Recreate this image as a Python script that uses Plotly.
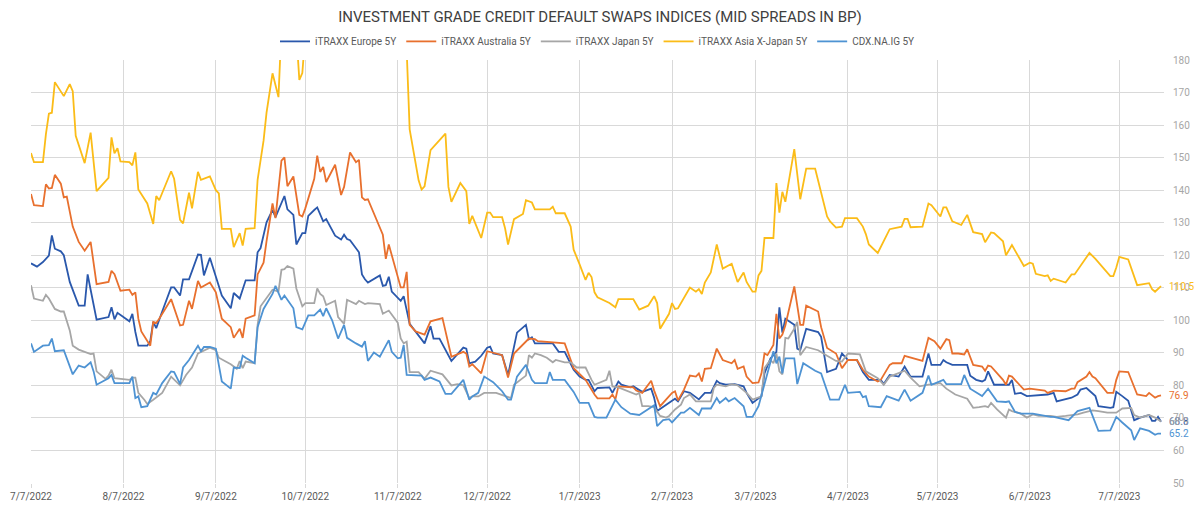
import pandas as pd
import plotly.graph_objects as go

START = "2022-07-07"  # day offsets below are counted from this date

# ---- iTRAXX Europe 5Y ----
eu_day = [0,2,4,6,7,8,10,11,13,14,16,18,19,20,22,26,27,28,29,33,34,35,36,39,40,41,42,44,47,48,50,51,53,56,57,58,60,64,67,68,70,72,75,76,77,79,81,82,84,85,86,88,89,91,92,93,95,
          96,98,99,102,104,105,106,107,110,111,112,113,116,117,118,119,120,121,124,125,127,129,132,134,135,137,141,145,146,147,149,151,153,154,155,158,160,163,166,167,168,169,175,177,179,182,184,186,187,189,
          190,194,195,197,198,201,202,205,208,209,210,215,216,217,219,221,224,226,228,230,231,233,236,239,240,242,245,246,248,250,251,252,253,256,257,258,260,264,265,267,270,272,274,277,279,281,284,
          285,286,288,291,293,295,299,301,302,305,306,307,309,314,315,317,319,320,321,323,328,329,330,332,334,341,343,344,349,351,352,354,357,358,362,363,364,366,368,370,372,375,376,377,378,379]
eu_val = [117.5,116.5,117.9,119.9,126.1,122.0,121.2,120.0,111.8,109.4,104.5,104.5,114.1,109.4,100.2,101.0,104.0,100.3,102.3,99.7,102.0,96.4,92.2,92.2,93.6,99.5,97.6,102.7,110.1,110.1,107.6,112.6,112.6,120.2,120.1,113.8,119.2,107.6,103.7,108.4,106.7,112.3,112.3,120.9,122.2,130.1,133.9,131.7,136.4,138.2,134.1,132.4,123.3,126.8,126.8,132.1,133.9,
          134.7,130.4,131.1,126.0,124.8,126.3,125.0,124.6,120.9,114.1,112.6,111.6,113.4,113.8,110.6,110.8,113.4,108.8,106.0,107.4,98.9,96.6,92.9,98.2,94.4,94.4,87.5,91.6,91.3,86.8,87.3,89.1,91.6,91.9,89.8,89.3,83.2,96.2,98.6,94.2,94.8,92.9,92.9,90.3,90.3,84.8,82.7,81.7,81.7,78.2,
          79.2,79.4,77.7,81.2,80.2,79.4,79.7,78.0,79.0,76.2,72.1,75.3,75.9,75.1,78.2,77.7,75.7,77.7,77.7,81.4,80.7,80.2,80.4,79.7,77.7,74.6,76.7,83.7,88.3,90.3,104.0,96.2,100.5,98.6,91.3,90.8,97.4,96.4,94.9,84.1,85.1,89.8,87.8,87.8,84.1,81.7,81.7,
          81.7,80.4,83.2,82.7,85.8,82.7,82.7,89.8,86.3,86.3,87.8,87.1,86.3,86.3,83.0,81.7,81.2,81.7,84.3,80.2,80.2,81.7,77.4,77.7,76.7,77.2,77.7,75.1,76.2,77.2,78.7,79.2,76.7,73.6,73.1,73.3,78.0,76.7,75.3,69.3,70.1,70.9,69.1,69.1,70.3,68.8]

# ---- iTRAXX Australia 5Y ----
au_day = [0,1,4,5,6,7,8,10,11,12,14,16,18,20,22,26,27,28,30,33,34,35,36,37,40,41,42,43,47,50,51,53,54,56,57,60,62,64,67,68,70,71,72,75,76,78,79,81,82,84,85,86,88,90,91,92,95,
          96,97,98,99,102,104,105,107,109,110,111,112,113,118,119,120,124,125,126,127,129,132,134,138,141,145,146,147,148,151,153,156,158,160,162,167,169,170,175,179,182,184,186,189,
          190,194,195,196,197,202,203,205,208,209,211,215,216,217,219,221,223,224,225,226,228,230,232,235,236,237,239,240,242,244,245,246,247,249,250,251,252,253,256,258,259,260,264,265,267,270,272,274,277,279,281,284,
          285,288,289,292,293,299,301,303,305,307,308,309,311,313,314,316,319,320,321,322,326,327,328,329,333,335,340,341,343,347,349,350,351,354,355,356,357,361,363,364,365,368,369,371,374,375,377,378,379]
au_val = [138.8,135.4,135.1,141.8,140.5,140.7,144.7,142.0,137.8,138.0,128.8,124.1,121.4,124.1,111.1,111.8,115.2,114.2,109.1,109.4,107.8,108.6,100.5,96.6,92.2,99.5,99.2,100.5,106.5,98.4,98.6,106.0,103.5,112.1,110.1,111.6,108.6,100.5,97.9,94.6,97.4,94.6,100.5,101.5,114.1,117.7,124.3,135.9,131.4,149.1,150.1,141.2,144.2,132.4,131.9,134.4,143.5,
          150.6,145.6,147.1,142.5,147.8,138.5,141.0,151.6,148.6,149.3,137.8,137.0,137.2,126.3,118.9,123.3,110.1,110.1,114.9,98.6,96.6,95.6,99.7,100.7,88.8,90.3,89.8,85.8,86.5,83.7,90.5,89.8,89.3,82.4,89.8,94.4,94.2,93.6,93.2,92.9,85.3,83.4,81.7,77.2,
          76.0,76.0,77.2,75.7,79.7,79.4,78.4,77.7,81.4,78.4,73.6,77.7,78.2,75.4,78.7,83.0,82.7,83.7,81.2,85.1,85.3,91.3,87.8,86.8,87.8,85.1,85.8,82.7,80.7,80.9,83.7,89.8,89.3,92.4,102.0,94.4,95.6,98.4,110.4,98.6,98.6,104.5,102.7,97.9,91.5,89.8,85.3,87.8,87.8,84.8,82.7,81.2,
          81.7,86.3,86.8,86.8,89.1,87.5,94.6,93.6,91.3,94.2,93.9,89.8,89.8,89.5,91.1,86.3,85.8,84.5,86.1,85.8,81.7,80.2,83.0,82.7,78.7,79.0,78.4,77.7,78.4,78.2,79.0,79.0,81.0,82.7,84.1,82.7,82.2,77.7,77.7,81.7,84.3,84.1,81.7,77.2,76.7,77.7,76.2,76.7,76.9]

# ---- iTRAXX Japan 5Y ----
jp_day = [0,1,4,5,6,8,10,11,13,14,16,18,20,21,22,25,26,27,28,33,34,35,36,38,39,41,44,47,50,52,54,56,57,60,62,63,65,67,69,70,71,72,75,76,77,79,81,83,84,85,86,88,89,91,92,95,
          96,97,98,99,102,103,105,106,109,110,112,113,117,118,120,123,124,125,126,127,130,132,134,138,141,143,145,147,148,150,152,156,159,161,162,166,167,168,169,171,173,175,176,179,181,183,186,187,188,189,
          193,194,195,197,200,203,204,205,207,209,211,213,214,216,218,219,221,223,228,229,230,233,235,237,240,242,245,246,248,249,250,251,252,253,254,256,257,258,260,264,267,270,272,274,278,280,284,
          286,288,292,293,295,298,301,305,307,310,314,316,318,320,321,322,324,327,328,329,332,334,336,338,342,344,347,351,353,356,358,361,364,366,369,370,372,375,377,379]
jp_val = [110.8,106.7,106.0,107.8,106.7,103.5,102.7,102.7,96.9,92.2,91.0,90.3,89.6,89.8,84.3,82.0,83.0,84.8,82.2,81.7,82.4,82.4,77.7,75.6,74.3,75.6,77.7,82.7,80.0,83.2,85.5,89.8,90.3,91.6,90.8,88.5,87.5,86.5,85.1,87.5,85.3,87.3,86.8,98.6,104.3,106.7,109.4,108.8,115.5,115.7,116.7,115.9,109.8,104.3,105.3,105.3,
          109.8,108.1,107.4,104.7,106.0,101.0,98.9,106.3,105.0,106.0,105.0,105.3,105.0,102.0,103.0,99.3,94.4,92.9,93.4,84.1,84.1,82.0,84.5,83.4,80.0,80.4,80.0,76.1,76.6,76.6,77.7,77.7,76.6,76.1,80.2,83.0,89.3,88.5,89.8,89.3,88.5,87.1,87.8,87.1,87.1,85.5,85.5,83.4,81.7,80.2,
          81.7,84.5,79.7,79.4,78.2,77.2,77.7,73.6,73.6,73.3,70.6,70.1,70.6,72.6,74.1,76.1,77.2,75.1,75.1,79.2,80.2,79.7,80.4,80.0,77.7,75.6,76.6,85.3,87.8,86.8,89.8,84.3,83.4,94.6,94.4,97.4,99.5,89.3,91.8,90.8,89.1,87.5,87.3,89.8,89.5,84.3,82.2,
          80.2,82.7,84.1,84.5,82.4,79.7,80.2,80.7,79.0,77.2,75.9,73.1,73.3,73.6,73.3,74.6,72.6,70.1,72.6,72.1,71.3,70.1,71.1,70.6,70.6,70.3,70.6,71.1,71.6,72.3,72.1,71.6,71.6,72.9,73.1,70.9,70.1,70.9,70.1,68.9]

# ---- iTRAXX Asia X-Japan 5Y ----
ax_day = [0,1,4,5,6,7,8,11,13,14,15,18,20,22,26,27,28,29,30,33,34,35,36,39,41,42,43,47,48,50,51,53,54,56,57,60,62,63,64,67,68,70,71,72,75,76,78,79,81,83,84,87,89,90,91,92,96,100,105,110,115,120,124,126,
          127,130,131,132,134,135,137,139,140,141,144,146,147,148,151,153,154,155,158,159,160,162,165,166,168,169,174,175,176,179,181,182,184,186,187,188,189,
          190,194,196,197,202,204,207,209,210,211,214,215,216,217,219,221,223,224,225,226,228,230,232,235,237,239,240,242,243,244,245,246,249,250,251,252,253,256,258,260,263,265,267,268,270,272,273,277,279,280,281,284,
          288,292,293,294,295,299,301,302,305,306,307,309,312,314,316,319,320,322,323,326,327,329,333,335,336,337,340,341,342,343,347,349,350,355,357,362,363,364,365,368,371,375,376,377,378,379]
ax_val = [151.4,148.6,148.6,157.2,163.5,163.8,173.2,168.9,172.6,170.4,156.7,148.3,157.7,139.7,143.8,156.2,151.3,152.9,148.8,148.6,147.6,151.6,140.2,135.9,129.6,138.2,136.9,145.8,143.5,130.9,129.8,139.2,134.4,145.6,143.2,144.2,140.0,139.0,128.1,128.1,122.5,126.8,123.0,128.1,128.3,143.2,155.2,163.8,175.9,168.6,190,195,188,173.9,176,188,195,200,205,200,198,195,190,183,
          158.7,143.0,140.2,141.2,152.3,153.3,155.4,157.4,141.0,136.4,142.2,139.7,129.6,132.1,125.3,133.1,133.1,131.7,131.7,128.3,123.3,131.1,132.7,136.9,136.2,134.1,134.1,134.9,132.9,132.9,128.8,121.7,117.2,112.4,114.6,113.3,108.6,
          107.1,105.3,104.0,106.5,106.5,103.3,104.5,107.4,105.3,97.4,102.0,105.3,103.5,103.7,106.7,110.1,108.8,109.6,108.1,111.6,114.7,123.3,115.9,117.4,111.8,114.7,111.8,108.8,108.8,113.8,115.2,125.3,125.3,142.2,133.1,139.5,136.4,152.6,137.2,146.6,146.6,139.0,131.9,130.4,128.5,128.8,131.4,131.4,128.8,126.5,123.3,120.7,
          128.0,128.8,131.2,131.2,128.6,128.8,135.9,135.4,131.9,134.7,134.7,130.4,129.3,132.4,127.1,126.5,124.0,127.0,126.8,124.3,120.0,123.1,116.7,117.7,117.4,114.3,113.6,113.8,112.1,112.8,111.6,114.1,114.1,120.7,118.9,113.6,113.6,116.2,119.5,118.7,110.8,111.4,109.6,108.8,109.6,110.5]

# ---- CDX.NA.IG 5Y ----
cdx_day = [0,1,4,6,7,8,11,13,14,16,18,20,21,22,25,26,27,28,33,34,35,36,37,39,41,42,44,47,48,50,51,53,56,57,58,60,62,63,64,67,68,70,71,72,75,76,78,81,82,84,85,88,89,91,93,95,
           97,98,99,101,103,105,106,109,111,112,113,115,117,120,121,123,124,125,126,131,132,134,137,139,141,145,147,148,150,152,155,158,160,161,163,166,168,169,173,174,175,179,182,184,187,189,
           190,193,196,198,201,204,206,209,210,212,214,215,218,219,221,224,225,228,230,231,233,234,236,239,240,242,244,247,249,250,251,252,253,256,257,259,263,265,268,271,273,274,278,279,280,281,284,
           285,287,291,293,295,299,301,302,306,307,312,313,315,319,321,324,327,328,330,332,336,342,343,348,351,355,358,362,364,366,369,370,372,375,377,378,379]
cdx_val = [92.9,90.3,92.2,92.4,94.4,90.5,90.8,85.8,83.4,86.1,85.5,87.1,84.3,80.2,81.7,82.2,83.2,80.7,80.7,82.7,76.1,76.6,73.3,73.6,77.7,77.2,80.7,84.3,84.1,80.4,85.5,87.8,92.2,90.5,91.8,91.8,91.3,86.3,81.2,79.0,85.5,85.3,89.1,88.5,86.8,97.9,103.5,108.1,110.6,106.3,107.6,103.7,97.9,97.2,101.5,101.5,
           103.3,101.3,103.7,100.0,94.4,98.6,94.6,92.9,91.9,93.6,87.5,90.1,88.8,93.9,90.3,88.3,88.5,92.4,83.2,83.0,81.7,82.4,81.2,77.4,77.4,81.7,75.6,76.6,77.7,82.7,81.0,78.2,75.6,75.6,82.7,86.3,81.7,80.7,80.7,84.1,81.7,81.7,78.0,74.6,74.6,70.3,
           70.1,70.1,75.6,73.3,71.3,70.9,72.1,73.9,67.5,69.3,69.6,68.6,71.6,71.6,73.1,70.9,72.9,72.9,76.1,74.6,76.1,75.1,76.1,73.6,70.3,70.3,73.6,83.7,90.5,86.8,88.8,83.7,88.3,88.3,80.4,86.8,84.5,83.7,75.6,75.6,80.2,77.7,78.0,76.4,76.7,73.6,73.3,
           73.3,76.7,75.3,78.7,75.3,77.7,83.0,80.2,81.7,80.4,80.4,83.2,79.0,76.7,79.0,75.1,74.9,75.1,71.9,71.3,71.3,70.3,70.3,69.3,72.1,73.1,66.0,66.2,70.3,68.6,66.2,63.2,66.8,66.0,64.8,65.2,65.2]

series_names = ["iTRAXX Europe 5Y", "iTRAXX Australia 5Y", "iTRAXX Japan 5Y",
                "iTRAXX Asia X-Japan 5Y", "CDX.NA.IG 5Y"]
series_days = [eu_day, au_day, jp_day, ax_day, cdx_day]
series_vals = [eu_val, au_val, jp_val, ax_val, cdx_val]
series_colors = ["#2A58AC", "#E8702E", "#A6A6A6", "#FBBC18", "#4E93D3"]

tick_dates = ["2022-07-07", "2022-08-07", "2022-09-07", "2022-10-07", "2022-11-07",
              "2022-12-07", "2023-01-07", "2023-02-07", "2023-03-07", "2023-04-07",
              "2023-05-07", "2023-06-07", "2023-07-07"]

start = pd.Timestamp(START)

fig = go.Figure()
for name, days, vals, col in zip(series_names, series_days, series_vals, series_colors):
    x = start + pd.to_timedelta(days, unit="D")
    fig.add_trace(go.Scatter(x=x, y=vals, mode="lines", name=name,
                             line=dict(color=col, width=1.8), cliponaxis=True))

# end-of-series value labels (they overlap in the original as well)
for days, vals, col in zip(series_days, series_vals, series_colors):
    fig.add_annotation(x=start + pd.Timedelta(days=days[-1]), y=vals[-1], text=f"{vals[-1]:.1f}",
                       showarrow=False, xanchor="left", yanchor="middle", xshift=6,
                       font=dict(family="Roboto", size=10, color=col))

FONT = "Roboto"
fig.update_layout(
    width=1200, height=512,
    margin=dict(l=10, r=27, t=60, b=24),
    paper_bgcolor="white", plot_bgcolor="white",
    title=dict(text="INVESTMENT GRADE CREDIT DEFAULT SWAPS INDICES (MID SPREADS IN BP)",
               x=0.5, xanchor="center", y=1 - 17 / 512, yanchor="middle",
               font=dict(family=FONT, size=15, color="#404040")),
    legend=dict(orientation="h", x=0.5, xanchor="center", y=1.044, yanchor="middle",
                font=dict(family=FONT, size=10, color="#595959"),
                itemwidth=30, bgcolor="rgba(0,0,0,0)"),
    showlegend=True,
    xaxis=dict(type="date",
               range=[start, start + pd.Timedelta(days=380)],
               tickvals=pd.to_datetime(tick_dates), tickformat="%-m/%-d/%Y",
               showgrid=True, gridcolor="#D9D9D9", gridwidth=1,
               ticks="outside", ticklen=4, tickcolor="#D9D9D9",
               showline=False, zeroline=False, ticklabeloverflow="allow",
               tickfont=dict(family=FONT, size=10, color="#595959")),
    yaxis=dict(side="right", range=[50, 180], dtick=10, tick0=50,
               showgrid=True, gridcolor="#D9D9D9", gridwidth=1,
               zeroline=False, showline=False, ticks="",
               ticklabelstandoff=8,
               tickfont=dict(family=FONT, size=10, color="#A6A6A6")),
)

fig.write_html("out.html")
